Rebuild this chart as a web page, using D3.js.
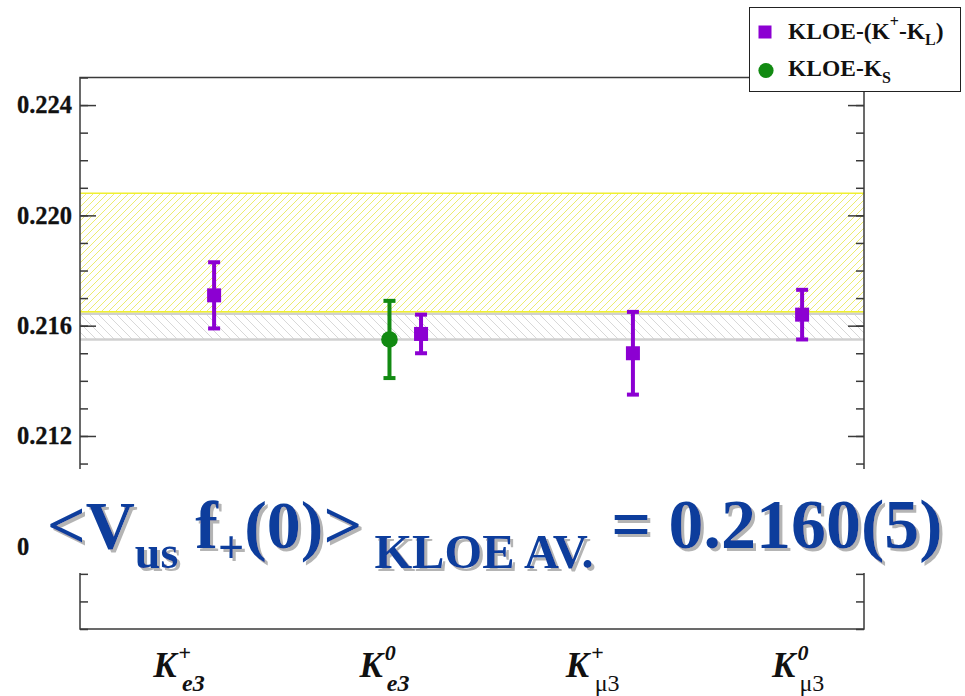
<!DOCTYPE html>
<html>
<head>
<meta charset="utf-8">
<script src="https://cdn.jsdelivr.net/npm/d3@7"></script>
<style>
  html, body { margin: 0; padding: 0; background: #ffffff; }
  svg { display: block; }
</style>
</head>
<body>
<svg id="chart" width="965" height="696"></svg>
<script>
// ---- data ----
const categories = ["K+e3", "K0e3", "K+μ3", "K0μ3"];
const catSup = ["+", "0", "+", "0"];
const catSub = ["e3", "e3", "μ3", "μ3"];

// KLOE (K+ - KL) measurements of Vus f+(0), one per channel
const kpklValue = [0.2171, 0.2157, 0.2150, 0.2164];
const kpklError = [0.0012, 0.0007, 0.0015, 0.0009];

// KLOE KS measurement (K0e3 only)
const ksCategory = ["K0e3"];
const ksValue = [0.2155];
const ksError = [0.0014];

// KLOE average band and the wider reference band
const avgValue = 0.2160;
const avgError = 0.0005;
const refBandLow = 0.2165;
const refBandHigh = 0.2208;

const yTicks = [0.212, 0.216, 0.220, 0.224, 0.208];
const yDomain = [0.205, 0.225];

// ---- layout ----
const serif = "'Liberation Serif', 'Times New Roman', Times, serif";
const frame = { left: 80, right: 864, top: 77.5, bottom: 629 };
const purple = "#8c00d2";
const green = "#128a12";
const blue = "#0a3c9c";

const svg = d3.select("#chart").attr("font-family", serif);

const x = d3.scaleLinear().domain([-0.5, 3.3]).range([frame.left, frame.right]);
const y = d3.scaleLinear().domain(yDomain).range([frame.bottom, frame.top]);
// per-series horizontal shift of the markers inside each channel slot
const kpklShift = [0.15, 0.153, 0.18, 0.0];
const ksShift = [0.0];

// hatch patterns and banner shadow
const defs = svg.append("defs");
const pY = defs.append("pattern").attr("id", "hatchY")
  .attr("patternUnits", "userSpaceOnUse").attr("width", 7).attr("height", 7);
pY.append("path").attr("d", "M-1,8 L8,-1 M-1,1 L1,-1 M6,8 L8,6")
  .attr("stroke", "#ecec70").attr("stroke-width", 1);
const pG = defs.append("pattern").attr("id", "hatchG")
  .attr("patternUnits", "userSpaceOnUse").attr("width", 9).attr("height", 9);
pG.append("path").attr("d", "M-1,-1 L10,10 M-1,8 L1,10 M8,-1 L10,1")
  .attr("stroke", "#d8d8d8").attr("stroke-width", 1);
const shadow = defs.append("filter").attr("id", "shadow")
  .attr("x", "-5%").attr("y", "-20%").attr("width", "115%").attr("height", "150%");
shadow.append("feDropShadow").attr("dx", 3).attr("dy", 3).attr("stdDeviation", 0.4)
  .attr("flood-color", "#b4b4b4").attr("flood-opacity", 1);

// reference band (yellow hatch)
svg.append("rect")
  .attr("x", frame.left).attr("width", frame.right - frame.left)
  .attr("y", y(refBandHigh)).attr("height", y(refBandLow) - y(refBandHigh))
  .attr("fill", "url(#hatchY)");
[refBandLow, refBandHigh].forEach(v => {
  svg.append("line").attr("x1", frame.left).attr("x2", frame.right)
    .attr("y1", y(v)).attr("y2", y(v))
    .attr("stroke", "#f0f030").attr("stroke-width", 1.6);
});

// average band (grey hatch)
svg.append("rect")
  .attr("x", frame.left).attr("width", frame.right - frame.left)
  .attr("y", y(avgValue + avgError) + 2).attr("height", y(avgValue - avgError) - y(avgValue + avgError) - 2)
  .attr("fill", "url(#hatchG)");
[avgValue - avgError, avgValue + avgError].forEach((v, i) => {
  svg.append("line").attr("x1", frame.left).attr("x2", frame.right)
    .attr("y1", y(v) + (i ? 2 : 0)).attr("y2", y(v) + (i ? 2 : 0))
    .attr("stroke", "#d0d0d0").attr("stroke-width", 2.4);
});

// frame and axes
const frameColor = "#3a3a3a";
svg.append("rect")
  .attr("x", frame.left).attr("y", frame.top)
  .attr("width", frame.right - frame.left).attr("height", frame.bottom - frame.top)
  .attr("fill", "none").attr("stroke", frameColor).attr("stroke-width", 1.5);

const minorTicks = d3.range(0, 21).map(i => yDomain[0] + i * 0.001);
const gl = svg.append("g").attr("transform", `translate(${frame.left},0)`)
  .call(d3.axisRight(y).tickValues(minorTicks).tickSize(8).tickFormat(""));
const gr = svg.append("g").attr("transform", `translate(${frame.right},0)`)
  .call(d3.axisLeft(y).tickValues(minorTicks).tickSize(8).tickFormat(""));
const majorL = svg.append("g").attr("transform", `translate(${frame.left},0)`)
  .call(d3.axisRight(y).tickValues(yTicks).tickSize(16).tickFormat(""));
const majorR = svg.append("g").attr("transform", `translate(${frame.right},0)`)
  .call(d3.axisLeft(y).tickValues(yTicks).tickSize(16).tickFormat(""));
[gl, gr, majorL, majorR].forEach(g => {
  g.select(".domain").remove();
  g.selectAll("line").attr("stroke", frameColor).attr("stroke-width", 1.5);
});

// y tick labels
svg.append("g").selectAll("text").data(yTicks).join("text")
  .attr("x", 72).attr("y", d => y(d)).attr("dy", "0.34em")
  .attr("text-anchor", "end").attr("font-family", serif)
  .attr("font-size", 24.5).attr("font-weight", "bold").attr("fill", "#111")
  .attr("stroke", "#111").attr("stroke-width", 0.3)
  .text(d => d3.format(".3f")(d));

// error bars + markers
function drawPoint(cx, v, e, color, shape) {
  const g = svg.append("g");
  g.append("line").attr("x1", cx).attr("x2", cx)
    .attr("y1", y(v + e)).attr("y2", y(v - e))
    .attr("stroke", color).attr("stroke-width", 4);
  [v + e, v - e].forEach(t => {
    g.append("rect").attr("x", cx - 6).attr("width", 12)
      .attr("y", y(t) - 2).attr("height", 4).attr("fill", color);
  });
  if (shape === "square") {
    g.append("rect").attr("x", cx - 7).attr("y", y(v) - 7)
      .attr("width", 14).attr("height", 14).attr("fill", color);
  } else {
    g.append("circle").attr("cx", cx).attr("cy", y(v)).attr("r", 8.3).attr("fill", color);
  }
}
categories.forEach((c, i) => {
  drawPoint(x(i + kpklShift[i]), kpklValue[i], kpklError[i], purple, "square");
});
ksCategory.forEach((c, j) => {
  const i = categories.indexOf(c);
  drawPoint(x(i + ksShift[j]), ksValue[j], ksError[j], green, "circle");
});

// x category labels
categories.forEach((c, i) => {
  const t = svg.append("text")
    .attr("x", x(i) - 30).attr("y", 677).attr("font-family", serif)
    .attr("font-weight", "bold").attr("fill", "#111");
  t.append("tspan").attr("font-size", 35).attr("font-style", "italic").text("K");
  t.append("tspan").attr("font-size", 22).attr("dy", -17).attr("dx", 2)
    .attr("font-style", catSup[i] === "0" ? "italic" : "normal").text(catSup[i]);
  const sub = t.append("tspan").attr("font-size", 24).attr("dy", 31).attr("dx", -9);
  if (catSub[i].startsWith("μ")) {
    sub.attr("font-weight", "normal").text(catSub[i]);
  } else {
    sub.attr("font-style", "italic").text(catSub[i]);
  }
});

// legend
const lg = svg.append("g");
lg.append("rect").attr("x", 749.5).attr("y", 7.5).attr("width", 211).attr("height", 84)
  .attr("fill", "#fff").attr("stroke", "#222").attr("stroke-width", 1);
lg.append("rect").attr("x", 758.5).attr("y", 25.5).attr("width", 13).attr("height", 13).attr("fill", purple);
lg.append("circle").attr("cx", 766).attr("cy", 70.5).attr("r", 7.6).attr("fill", green);
const l1 = lg.append("text").attr("x", 788).attr("y", 39).attr("font-family", serif)
  .attr("font-size", 23.5).attr("font-weight", "bold").attr("fill", "#111");
l1.append("tspan").text("KLOE-(K");
l1.append("tspan").attr("font-size", 16).attr("dy", -12).text("+");
l1.append("tspan").attr("dy", 12).text("-K");
l1.append("tspan").attr("font-size", 16).attr("dy", 6).text("L");
l1.append("tspan").attr("dy", -6).text(")");
const l2 = lg.append("text").attr("x", 788).attr("y", 76).attr("font-family", serif)
  .attr("font-size", 23.5).attr("font-weight", "bold").attr("fill", "#111");
l2.append("tspan").text("KLOE-K");
l2.append("tspan").attr("font-size", 16).attr("dy", 7).text("S");

// result banner over the lower part of the plot
svg.append("rect").attr("x", 29).attr("y", 469).attr("width", 936).attr("height", 104)
  .attr("fill", "#fff");

const b = svg.append("text")
  .attr("x", 47).attr("y", 548).attr("font-family", serif)
  .attr("font-weight", "bold").attr("fill", blue)
  .attr("filter", "url(#shadow)");
b.append("tspan").attr("font-size", 68).text("<V");
b.append("tspan").attr("font-size", 46).attr("dy", 20).text("us");
b.append("tspan").attr("font-size", 68).attr("dy", -20).text(" f");
b.append("tspan").attr("font-size", 46).attr("dy", 15).text("+");
b.append("tspan").attr("font-size", 68).attr("dy", -15).text("(0)>");
b.append("tspan").attr("font-size", 48.5).attr("dy", 20).text(" KLOE AV.");
b.append("tspan").attr("font-size", 70).attr("dy", -20).text(" = 0.2160(5)");
</script>
</body>
</html>
